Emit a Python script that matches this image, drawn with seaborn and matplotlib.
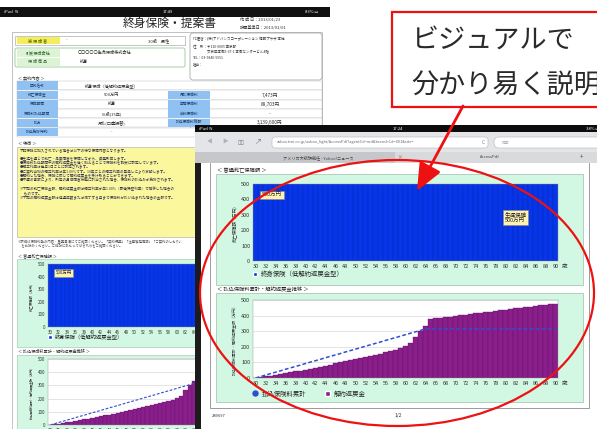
"""Recreation: iPad screenshots of a whole-life insurance proposal with callout."""

import matplotlib
matplotlib.use("Agg")
import numpy as np
import matplotlib.pyplot as plt
from matplotlib.patches import Rectangle, FancyBboxPatch, Ellipse, Patch
from matplotlib.lines import Line2D
import seaborn as sns

# ---- data (万円, by age) ----
ages = list(range(30, 91))
death_benefit = [500] * len(ages)
premiums_paid = [0, 9, 19, 28, 37, 46, 56, 65, 74, 83,
                 93, 102, 111, 120, 130, 139, 148, 157, 167, 176,
                 185, 194, 204, 213, 222, 231, 241, 250, 259, 268,
                 278, 287, 296, 305, 315,
                 315, 315, 315, 315, 315, 315, 315, 315, 315, 315,
                 315, 315, 315, 315, 315, 315, 315, 315, 315, 315,
                 315, 315, 315, 315, 315, 315]
surrender_value = [2, 6, 11, 16, 21, 26, 31, 36, 42, 47,
                   53, 59, 65, 72, 79, 86, 93, 100, 107, 114,
                   121, 128, 135, 142, 149, 157, 165, 173, 181, 190,
                   205, 222, 262, 300, 335,
                   378, 382, 386, 390, 394, 398, 402, 406, 410, 414,
                   418, 422, 426, 430, 434, 438, 442, 446, 450, 454,
                   458, 462, 466, 469, 472, 475]
y_ticks = [0, 100, 200, 300, 400, 500]

callout_lines = ["ビジュアルで", "分かり易く説明"]
chart1_title = "＜ 普通死亡保障額 ＞"
chart2_title = "＜ 払込保険料累計・解約返戻金推移 ＞"
chart1_ylabel = "死亡保障額（万円）"
chart2_ylabel = "払込保険料累計・解約返戻金額（万円）"
chart1_legend = "終身保険（低解約返戻金型）"
chart2_legend = ["払込保険料累計", "解約返戻金"]

BLUE = "#0636e8"
PURPLE = "#8a1f8c"
LINE_BLUE = "#2f4fd0"
MINT = "#d2f7e2"
RED = "#ee1111"

sns.set_theme(style="white")
plt.rcParams["font.family"] = ["Noto Sans CJK JP", "DejaVu Sans"]

W, H = 597, 429
fig = plt.figure(figsize=(W / 100, H / 100), dpi=100)
fig.patch.set_facecolor("white")


def px_axes(x, y, w, h, z):
    ax = fig.add_axes([x / W, 1 - (y + h) / H, w / W, h / H])
    ax.set_zorder(z)
    return ax


def overlay(z):
    ax = px_axes(0, 0, W, H, z)
    ax.set_xlim(0, W)
    ax.set_ylim(H, 0)
    ax.axis("off")
    return ax


def box(ax, x, y, w, h, fc, ec="none", lw=0.5):
    ax.add_patch(Rectangle((x, y), w, h, facecolor=fc, edgecolor=ec, linewidth=lw))


def style_axis(ax, fs, ylabel, yfs, last_label):
    ax.set_xlim(29.5, 90.5)
    ax.set_ylim(0, 500)
    ticks = ages[::2]
    ax.set_xticks(ticks)
    ax.set_xticklabels([str(a) if a <= last_label else "" for a in ticks])
    ax.set_yticks(y_ticks)
    ax.tick_params(labelsize=fs, length=0, pad=2, colors="#333333")
    ax.set_xlabel("")
    ax.set_ylabel(ylabel, fontsize=yfs, labelpad=3, color="#333333")
    for s in ax.spines.values():
        s.set_linewidth(0.3)
        s.set_color("#999999")
    if last_label >= ages[-1]:
        ax.annotate("歳", xy=(1, 0), xycoords="axes fraction", xytext=(3, -2),
                    textcoords="offset points", ha="left", va="top", fontsize=fs,
                    color="#333333")


def death_chart(ax, fs, yfs, lw, last_label=90):
    sns.barplot(x=ages, y=death_benefit, native_scale=True, width=1.0,
                color=BLUE, saturation=1, edgecolor="#0a24b0", linewidth=lw, ax=ax)
    style_axis(ax, fs, chart1_ylabel, yfs, last_label)
    box_kw = dict(boxstyle="square,pad=0.3", fc="#fdf1b4", ec="#888888", lw=0.4)
    ax.text(0.03, 0.86, "500万円", transform=ax.transAxes, fontsize=fs,
            va="center", bbox=box_kw)
    ax.text(0.86, 0.57, "生涯保障\n500万円", transform=ax.transAxes, fontsize=fs,
            ha="center", va="center", multialignment="center", bbox=box_kw)
    ax.legend(handles=[Patch(facecolor=BLUE, label=chart1_legend)],
              loc="upper left", bbox_to_anchor=(0.0, -0.12), frameon=False,
              fontsize=fs + 0.6, handlelength=0.7, handleheight=0.7,
              handletextpad=0.6, borderaxespad=0, borderpad=0)


def value_chart(ax, fs, yfs, lw, lw_line, last_label=90):
    ax.set_facecolor("white")
    sns.barplot(x=ages, y=surrender_value, native_scale=True, width=1.0,
                color=PURPLE, saturation=1, edgecolor="#5e0f60", linewidth=lw, ax=ax)
    sns.lineplot(x=ages, y=premiums_paid, color=LINE_BLUE, linewidth=lw_line,
                 linestyle=(0, (2.5, 1.5)), ax=ax)
    style_axis(ax, fs, chart2_ylabel, yfs, last_label)
    ax.yaxis.grid(True, color="#cfcfcf", linewidth=0.4)
    ax.set_axisbelow(True)
    handles = [Line2D([], [], marker="o", color=LINE_BLUE, ls="none", ms=fs * 0.9),
               Patch(facecolor=PURPLE)]
    ax.legend(handles, chart2_legend, loc="upper left", bbox_to_anchor=(0.0, -0.15),
              ncol=2, frameon=False, fontsize=fs + 0.6, handlelength=0.7,
              handleheight=0.7, handletextpad=0.6, columnspacing=3,
              borderaxespad=0, borderpad=0)


# ---------------- left screen: proposal document ----------------
bg = overlay(0)
box(bg, 0, 7, 330, 10, "#111111")
bg.text(4, 12, "iPad  ≈", color="white", fontsize=3, va="center")
bg.text(163, 12, "17:49", color="white", fontsize=3, va="center")
bg.text(305, 12, "83% ▭", color="white", fontsize=3, va="center")
bg.text(123, 23, "終身保険・提案書", fontsize=8.5, va="center", color="#222222")
bg.text(240, 19, "作 成 日：2013/01/23", fontsize=3, va="center", color="#333333")
bg.text(240, 27, "計画基準日：2013/02/01", fontsize=3, va="center", color="#333333")
box(bg, 12, 32, 310, 420, "none", "#aaaaaa", 0.5)

# insured / company rows
box(bg, 15, 36, 170, 9, "white", "#999999", 0.4)
box(bg, 17, 37, 43, 7, "#f4ee5c")
bg.text(38, 40.5, "被 保 険 者", fontsize=3, ha="center", va="center", color="#4d5d00")
bg.text(66, 40.5, "-", fontsize=3, va="center")
bg.text(148, 40.5, "30歳　男性", fontsize=3, va="center", color="#333333")
bg.add_patch(FancyBboxPatch((15, 48), 170, 19, boxstyle="round,pad=0,rounding_size=2",
                            fc="white", ec="#7fbf7f", lw=0.5))
box(bg, 17, 49, 43, 8, "#dcf4d4")
box(bg, 17, 58, 43, 8, "#dcf4d4")
bg.text(38, 53, "引受保険会社", fontsize=3, ha="center", va="center", color="#2e6b2e")
bg.text(38, 62, "保 険 商 品", fontsize=3, ha="center", va="center", color="#2e6b2e")
bg.text(78, 53, "〇〇〇〇〇生命保険株式会社", fontsize=3, va="center", color="#333333")
bg.text(80, 62, "終身", fontsize=3, va="center", color="#333333")

# agent box
bg.add_patch(FancyBboxPatch((190, 33), 132, 47, boxstyle="round,pad=0,rounding_size=3",
                            fc="white", ec="#999999", lw=0.5))
for yy, tx in [(38, "代理店：(株)アドバンスコーポレーション 情報プラザ 本社"),
               (47, "住　所：〒110-0005 東京都"),
               (52, "　　　　文京区本郷3-37-1 本郷センタービル4階"),
               (58, "TEL：03-5840-5551"),
               (64, "担当：")]:
    bg.text(193, yy, tx, fontsize=2.5, va="center", color="#333333")

# contract table
bg.text(18, 78, "＜ 契約内容 ＞", fontsize=3, va="center", color="#333333")
box(bg, 190, 82, 132, 48, "white", "#999999", 0.4)
left_rows = [("正式名称", "終身保険（低解約返戻金型）"), ("死亡保険金", "500万円"),
             ("保険期間", "終身"), ("保険料払込期間", "65歳(35年)"),
             ("払方", "月払(口座振替)"), ("払込免除特約", "-")]
right_rows = [("月払保険料", "7,473円"), ("年間保険料", "89,703円"),
              ("前納保険料", "-"), ("払込保険料総額", "3,139,600円")]
for i, (lab, val) in enumerate(left_rows):
    yy = 81 + i * 9.3
    box(bg, 17, yy, 305, 9.3, "white", "#bbbbbb", 0.3)
    box(bg, 17, yy + 0.4, 41, 8.5, "#8fc1f2")
    bg.text(37.5, yy + 4.7, lab, fontsize=2.7, ha="center", va="center", color="#1a3a6a")
    bg.text(112, yy + 4.7, val, fontsize=3, ha="center", va="center", color="#333333")
for i, (lab, val) in enumerate(right_rows):
    yy = 81 + (i + 1) * 9.3
    box(bg, 168, yy + 0.4, 42, 8.5, "#8fc1f2")
    bg.text(189, yy + 4.7, lab, fontsize=2.7, ha="center", va="center", color="#1a3a6a")
    bg.text(270, yy + 4.7, val, fontsize=3.4, ha="center", va="center", color="#333333")

# features box
bg.text(18, 144, "＜ 特徴 ＞", fontsize=3, va="center", color="#333333")
box(bg, 17, 147, 305, 90, "#fbf79c", "#aaaaaa", 0.4)
feature_lines = [
    (151, "下記保険に加入されている場合は以下の様な保障内容となります。"),
    (159, "●生涯を通じて死亡・高度障害を保障しながら、資産形成します。"),
    (163, "●保険料払込期間中の解約返戻金を低く抑えることで保険料を割安に設定しています。"),
    (167, "●積立利率は毎月1日ごとに設定されます。"),
    (172, "●ご契約当初の積立利率は年1.00%です。10年ごとの積立利率の見直しにより変動します。"),
    (176, "●解約した場合、保険に応じて解約返戻金を受け取ることができます。"),
    (180, "●不慮の事故により、所定の身体障害状態に該当された場合、保険料の払込みが免除されます。"),
    (189, "※下記の死亡保険金額、解約返戻金額は積立利率が年1.00%（最低保証利率）で推移した場合の"),
    (193, "　ものです。"),
    (198, "※下記の解約返戻金額は経過年数または満了する月まで保険料が払い込まれた場合の金額です。"),
]
for yy, tx in feature_lines:
    bg.text(20, yy, tx, fontsize=2.6, va="center", color="#333355")
bg.text(18, 242, "※詳細は保険約款の内容・重要事項にてご確認ください。「契約概要」「注意喚起情報」「ご契約のしおり」",
        fontsize=2.4, va="center", color="#555555")
bg.text(18, 246, "　をお読みください。ご検討にあたってはそれらをご確認ください。",
        fontsize=2.4, va="center", color="#555555")

# left charts (right part is hidden behind the second screen)
bg.text(18, 258, chart1_title, fontsize=3, va="bottom", color="#333333")
box(bg, 17, 259, 305, 88, MINT, "#9bbfa8", 0.4)
bg.text(18, 354, chart2_title, fontsize=3, va="bottom", color="#333333")
box(bg, 17, 355, 305, 90, MINT, "#9bbfa8", 0.4)
death_chart(px_axes(48, 264, 258, 63, 1), 3.2, 2.4, 0.2, last_label=64)
value_chart(px_axes(48, 359, 258, 66, 1), 3.2, 2.2, 0.2, 0.8, last_label=64)

# ---------------- right screen: browser with charts ----------------
scr = overlay(2)
box(scr, 195, 125, 402, 304, "white")
box(scr, 195, 125, 402, 7, "#0c0c0c")
scr.text(199, 128.5, "iPad ≈", color="white", fontsize=3, va="center")
scr.text(398, 128.5, "17:24", color="white", fontsize=3, va="center", ha="center")
scr.text(586, 128.5, "38% ▭", color="white", fontsize=3, va="center")
box(scr, 195, 132, 402, 20, "#e4e5e8")
scr.text(207, 142, "◀", fontsize=4, color="#b0b0b0", va="center")
scr.text(222, 142, "▶", fontsize=4, color="#b0b0b0", va="center")
scr.text(237, 142, "▯▯", fontsize=4.5, color="#777777", va="center")
scr.text(255, 142, "↗", fontsize=5, color="#777777", va="center")
scr.add_patch(FancyBboxPatch((272, 137), 216, 11, boxstyle="round,pad=0,rounding_size=3",
                             fc="white", ec="#b5b5b5", lw=0.4))
scr.text(277, 142.5, "asbox.tmi.co.jp/asbox_light/AccessPdf?agentCd=ind&branchCd=001&site=",
         fontsize=2.8, color="#666666", va="center")
scr.text(482, 142.5, "C", fontsize=3.5, color="#888888", va="center")
scr.add_patch(FancyBboxPatch((494, 137), 110, 11, boxstyle="round,pad=0,rounding_size=5",
                             fc="white", ec="#b5b5b5", lw=0.4))
scr.text(502, 142.5, "検索", fontsize=2.8, color="#aaaaaa", va="center")
box(scr, 195, 152, 402, 11, "#c6c7ca")
box(scr, 395, 152, 202, 11, "#d9dadc")
scr.text(318, 157.5, "アメリカ大統領就任 - Yahoo!ニュース", fontsize=3, ha="center",
         va="center", color="#444444")
scr.text(400, 157.5, "×", fontsize=3.5, ha="center", va="center", color="#666666")
scr.text(490, 157.5, "AccessPdf", fontsize=3, ha="center", va="center", color="#444444")
scr.text(582, 157.5, "+", fontsize=4.5, ha="center", va="center", color="#555555")
box(scr, 195, 163, 6, 266, "#1c1c1c")
scr.plot([210, 210, 589, 589], [163, 408, 408, 163], color="#8a8a8a", lw=0.6)
scr.text(212, 416, "289697", fontsize=3, va="center", color="#333333")
scr.text(398, 415, "1/2", fontsize=3.5, va="center", ha="center", color="#333333")

scr.text(217, 173, chart1_title, fontsize=3.8, va="bottom", color="#222222")
box(scr, 216, 174, 367, 111, MINT, "#9bbfa8", 0.5)
scr.text(217, 292, chart2_title, fontsize=3.8, va="bottom", color="#222222")
box(scr, 216, 293, 367, 109, MINT, "#9bbfa8", 0.5)
death_chart(px_axes(253, 184, 305, 77, 3), 4.0, 3.2, 0.25)
value_chart(px_axes(253, 300, 305, 78, 3), 4.0, 2.9, 0.25, 1.1)

# ---------------- callout, arrow and ellipse ----------------
top = overlay(4)
box(top, 392, 12, 230, 95, "white", RED, 1.6)
top.text(411, 40, callout_lines[0], fontsize=19.5, va="center", color="#2a2a2a")
top.text(411, 86, callout_lines[1], fontsize=19.5, va="center", color="#2a2a2a")
top.annotate("", xy=(417, 191), xytext=(463, 106),
             arrowprops=dict(arrowstyle="-|>,head_length=1.4,head_width=0.6",
                             color=RED, lw=2, shrinkA=0, shrinkB=0))
top.add_patch(Ellipse((397, 293), 394, 266, fill=False, edgecolor=RED, linewidth=1.6))

plt.savefig("out.png", dpi=100)
plt.close()
print("Saved: out.png")
